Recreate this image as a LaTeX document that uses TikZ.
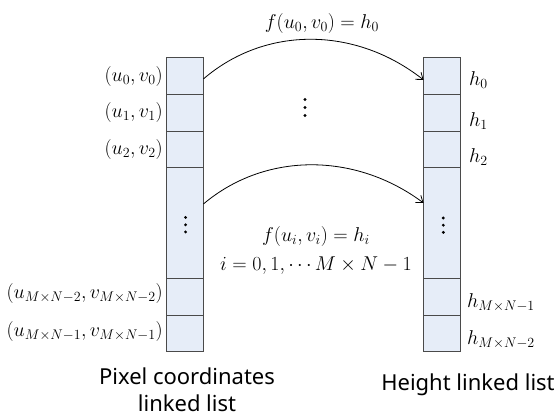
\documentclass[tikz,border=0pt]{standalone}
\usepackage{fix-cm}
\usepackage{fontspec}
\setsansfont{Noto Sans}
\usetikzlibrary{arrows.meta,calc}
\definecolor{cellfill}{HTML}{E6EDF8}
\definecolor{celldraw}{HTML}{4A4A4A}
\tikzset{
  cell/.style={draw=celldraw,fill=cellfill,line width=0.9pt,minimum width=37pt,inner sep=0pt,outer sep=0pt},
  mlabel/.style={font=\fontsize{20}{22}\selectfont,inner sep=0pt},
  vdot/.style={circle,fill=black,inner sep=0pt,minimum size=3.2pt},
  caption/.style={font=\sffamily\fontsize{22}{27}\selectfont,align=center,inner sep=0pt},
  maparrow/.style={line width=0.8pt,-{Straight Barb[length=6pt,width=9pt]}}
}
\begin{document}
\begin{tikzpicture}[x=1pt,y=-1pt]
\useasboundingbox (0,0) rectangle (557,419);
% left column
\node[cell,minimum height=36.8pt] (L1) at (185,75.9) {};
\node[cell,minimum height=36.8pt] (L2) at (185,112.7) {};
\node[cell,minimum height=36.8pt] (L3) at (185,149.5) {};
\node[cell,minimum height=110.3pt] (L4) at (185,223.1) {};
\node[cell,minimum height=36.8pt] (L5) at (185,296.7) {};
\node[cell,minimum height=36.8pt] (L6) at (185,333.5) {};
% right column
\node[cell,minimum height=36.8pt] (R1) at (442,75.9) {};
\node[cell,minimum height=36.8pt] (R2) at (442,112.7) {};
\node[cell,minimum height=36.8pt] (R3) at (442,149.5) {};
\node[cell,minimum height=110.3pt] (R4) at (442,223.1) {};
\node[cell,minimum height=36.8pt] (R5) at (442,296.7) {};
\node[cell,minimum height=36.8pt] (R6) at (442,333.5) {};
% dots
\foreach \k/\y in {1/217.5,2/224.8,3/232} {\node[vdot] (dL\k) at (185.6,\y) {};}
\foreach \k/\y in {1/218,2/225.2,3/232.4} {\node[vdot] (dR\k) at (443.3,\y) {};}
\foreach \k/\y in {1/99.5,2/107.5,3/115.5} {\node[vdot] (dM\k) at (305,\y) {};}
% left labels
\node[mlabel,anchor=east] (a0) at (163,77) {$(u_0,v_0)$};
\node[mlabel,anchor=east] (a1) at (163,113) {$(u_1,v_1)$};
\node[mlabel,anchor=east] (a2) at (163,150) {$(u_2,v_2)$};
\node[mlabel,anchor=east] (a3) at (163,294) {$(u_{M\times N-2},v_{M\times N-2})$};
\node[mlabel,anchor=east] (a4) at (163,332) {$(u_{M\times N-1},v_{M\times N-1})$};
% right labels
\node[mlabel,anchor=west] (b0) at (469,80) {$h_0$};
\node[mlabel,anchor=west] (b1) at (469,121) {$h_1$};
\node[mlabel,anchor=west] (b2) at (469,157) {$h_2$};
\node[mlabel,anchor=west] (b3) at (467,303) {$h_{M\times N-1}$};
\node[mlabel,anchor=west] (b4) at (467,340) {$h_{M\times N-2}$};
% arrows
\draw[maparrow] ($(L1.east)+(0,3)$) .. controls (265,26) and (355,26) .. ($(R1.west)+(0,4)$);
\draw[maparrow] ($(L4.north east)+(0,36)$) .. controls (265,152) and (355,152) .. ($(R4.north west)+(0,35)$);
% formulas
\node[mlabel] (f0) at (322,24) {$f(u_0,v_0)=h_0$};
\node[mlabel] (fi) at (316,237) {$f(u_i,v_i)=h_i$};
\node[mlabel] (ii) at (316,266) {$i=0,1,\cdots M\times N-1$};
% captions
\node[caption] (c1) at (187,390) {Pixel coordinates\\linked list};
\node[caption] (c2) at (468,385) {Height linked list};
\end{tikzpicture}
\end{document}
